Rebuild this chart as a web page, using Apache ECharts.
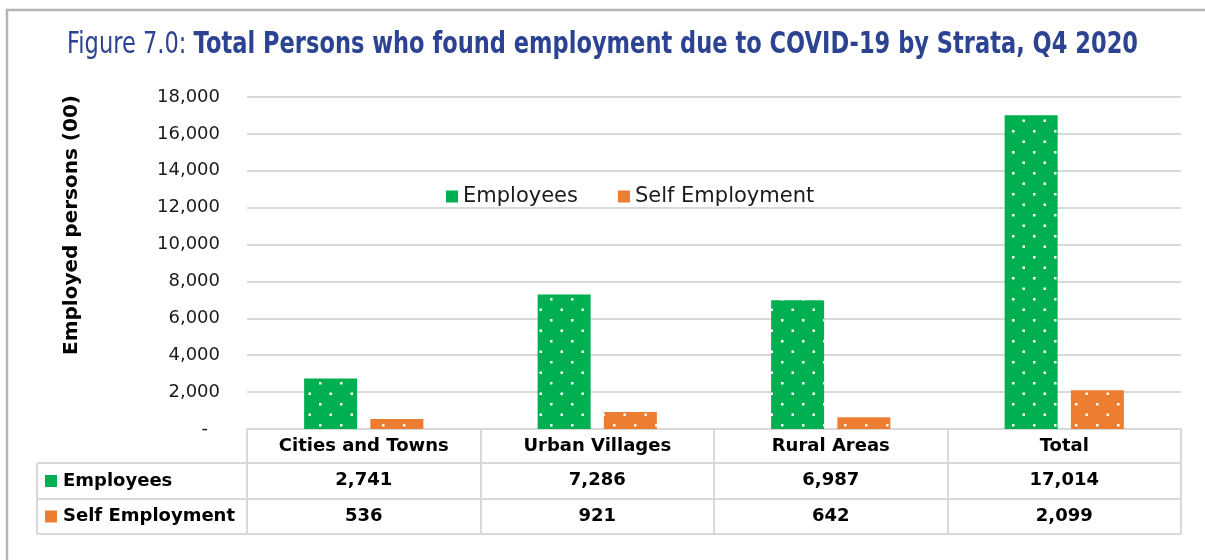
<!DOCTYPE html>
<html>
<head>
<meta charset="utf-8">
<script src="https://cdn.jsdelivr.net/npm/echarts@6/dist/echarts.min.js"></script>
<style>
  html, body { margin: 0; padding: 0; background: #fff; }
  #chart { width: 1205px; height: 560px; }
</style>
</head>
<body>
<div id="chart"></div>
<script>
// data
const categories = ["Cities and Towns", "Urban Villages", "Rural Areas", "Total"];
const employees = [2741, 7286, 6987, 17014];
const selfEmployment = [536, 921, 642, 2099];
const seriesNames = ["Employees", "Self Employment"];
const yTicks = [0, 2000, 4000, 6000, 8000, 10000, 12000, 14000, 16000, 18000];

const titleA = "Figure 7.0: ";
const titleB = "Total Persons who found employment due to COVID-19 by Strata, Q4 2020";

const green = "#00B050";
const orange = "#ED7D31";
const gridCol = "#d9d9d9";
const titleCol = "#2B4391";
const font = "'DejaVu Sans', sans-serif";

// dotted fill like the excel pattern
function dotPattern(color) {
  const c = document.createElement("canvas");
  c.width = 21;
  c.height = 21;
  const ctx = c.getContext("2d");
  ctx.fillStyle = color;
  ctx.fillRect(0, 0, 21, 21);
  ctx.fillStyle = "#fff";
  ctx.fillRect(4, 4, 2.5, 2.5);
  ctx.fillRect(14.5, 14.5, 2.5, 2.5);
  return { image: c, repeat: "repeat" };
}

const fmt = (v) => v.toLocaleString("en-US");

// title is a condensed font in the original -> squeeze it horizontally
const mctx = document.createElement("canvas").getContext("2d");
const fontA = "30px " + font;
const fontB = "bold 30px " + font;
mctx.font = fontA;
const wA = mctx.measureText(titleA).width;
mctx.font = fontB;
const wB = mctx.measureText(titleB).width;
const titleScale = 1071 / (wA + wB);

const myChart = echarts.init(document.getElementById("chart"));

// table lines / row headers (layout only)
const tblLeft = 37, tblRight = 1181;
const rowLines = [463, 499, 534];
const graphics = [
  {
    type: "rect",
    shape: { x: 7, y: 10, width: 1400, height: 800 },
    style: { fill: null, stroke: "#b4b4b4", lineWidth: 2.5 },
    silent: true,
  },
  {
    type: "group",
    x: 67,
    y: 45,
    scaleX: titleScale,
    children: [
      { type: "text", x: 0, y: 0, style: { text: titleA, font: fontA, fill: titleCol, textVerticalAlign: "middle" } },
      { type: "text", x: wA, y: 0, style: { text: titleB, font: fontB, fill: titleCol, textVerticalAlign: "middle" } },
    ],
  },
  {
    type: "text",
    x: 72,
    y: 225,
    rotation: Math.PI / 2,
    style: {
      text: "Employed persons (00)",
      font: "bold 20px " + font,
      fill: "#000",
      textAlign: "center",
      textVerticalAlign: "middle",
    },
  },
  {
    type: "line",
    shape: { x1: tblLeft, y1: rowLines[0], x2: tblLeft, y2: rowLines[2] },
    style: { stroke: gridCol, lineWidth: 2 },
  },
];
rowLines.forEach((y) => {
  graphics.push({
    type: "line",
    shape: { x1: tblLeft, y1: y, x2: tblRight, y2: y },
    style: { stroke: gridCol, lineWidth: 2 },
  });
});
[green, orange].forEach((col, i) => {
  const cy = (rowLines[i] + rowLines[i + 1]) / 2;
  graphics.push({
    type: "rect",
    shape: { x: 45, y: cy - 6, width: 12, height: 12 },
    style: { fill: col },
  });
  graphics.push({
    type: "text",
    x: 63,
    y: cy,
    style: {
      text: seriesNames[i],
      font: "bold 18px " + font,
      fill: "#000",
      textVerticalAlign: "middle",
    },
  });
});

const option = {
  backgroundColor: "#fff",
  animation: false,
  legend: {
    left: 441,
    top: 181,
    icon: "rect",
    itemWidth: 12,
    itemHeight: 12,
    itemGap: 40,
    textStyle: { fontFamily: font, fontSize: 21, color: "#1a1a1a" },
    data: [
      { name: seriesNames[0], itemStyle: { color: green } },
      { name: seriesNames[1], itemStyle: { color: orange } },
    ],
  },
  grid: { left: 247, right: 24, top: 97, bottom: 131 },
  xAxis: {
    type: "category",
    data: categories,
    axisLine: { show: true, lineStyle: { color: gridCol, width: 2 } },
    axisTick: { show: true, alignWithLabel: false, interval: 0, length: 105, lineStyle: { color: gridCol, width: 2 } },
    axisLabel: {
      margin: 0,
      interval: 0,
      formatter: (v, i) =>
        "{h|" + v + "}\n{v|" + fmt(employees[i]) + "}\n{v|" + fmt(selfEmployment[i]) + "}",
      rich: {
        h: { fontFamily: font, fontSize: 18, fontWeight: "bold", color: "#000", lineHeight: 34, align: "center" },
        v: { fontFamily: font, fontSize: 18, fontWeight: "bold", color: "#000", lineHeight: 35.5, align: "center" },
      },
    },
  },
  yAxis: {
    type: "value",
    min: yTicks[0],
    max: yTicks[yTicks.length - 1],
    interval: 2000,
    axisLine: { show: false },
    axisTick: { show: false },
    splitLine: { showMinLine: false, lineStyle: { color: gridCol, width: 2 } },
    axisLabel: {
      margin: 27,
      fontFamily: font,
      fontSize: 18,
      color: "#1a1a1a",
      formatter: (v) => (v === 0 ? "{d|-}" : fmt(v)),
      rich: { d: { fontFamily: font, fontSize: 18, color: "#1a1a1a", padding: [0, 12, 0, 0] } },
    },
  },
  series: [
    {
      name: seriesNames[0],
      type: "bar",
      data: employees,
      barWidth: 53,
      barGap: "25%",
      itemStyle: { color: dotPattern(green) },
    },
    {
      name: seriesNames[1],
      type: "bar",
      data: selfEmployment,
      barWidth: 53,
      itemStyle: { color: dotPattern(orange) },
    },
  ],
  graphic: graphics,
};

myChart.setOption(option);
</script>
</body>
</html>
